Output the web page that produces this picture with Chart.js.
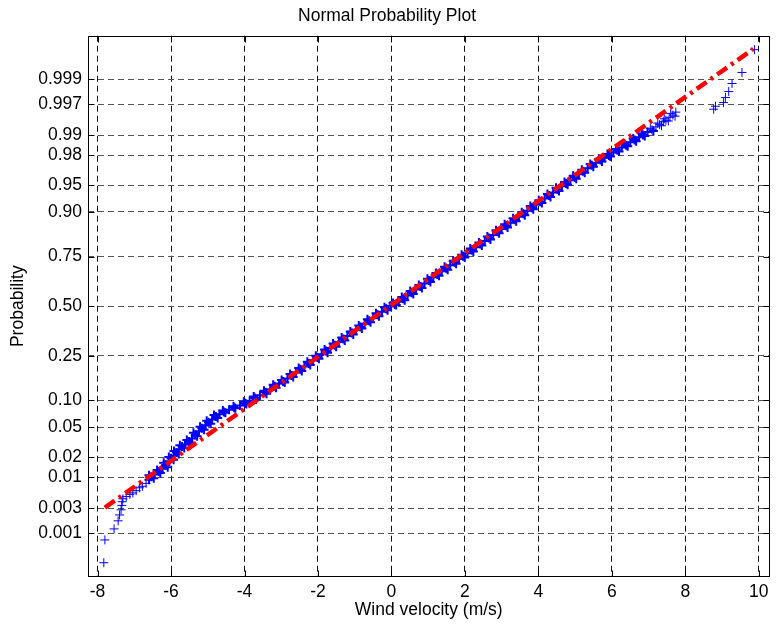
<!DOCTYPE html>
<html>
<head>
<meta charset="utf-8">
<script src="https://cdn.jsdelivr.net/npm/chart.js@4/dist/chart.umd.min.js"></script>
<style>
  html, body { margin: 0; padding: 0; background: #fff; }
  #wrap { width: 776px; height: 625px; }
</style>
</head>
<body>
<div id="wrap"><canvas id="probChart" width="776" height="625"></canvas></div>
<script>
// wind velocity samples (m/s) and their normal scores
const windSpeed = [
  -7.83, -7.80, -7.55, -7.44, -7.40, -7.36, -7.34, -7.33, -7.31, -7.22,
  -7.12, -7.04, -6.95, -6.86, -6.78, -6.68, -6.60, -6.54, -6.45, -6.32,
  -6.24, -6.14, -6.06, -6.00, -5.92, -5.85, -5.78, -5.70, -5.62, -5.51,
  -5.43, -5.34, -5.24, -5.16, -5.06, -4.98, -4.88, -4.78, -4.68, -4.56,
  -4.42, -4.28, -4.12, -3.98, -3.86, -3.72, -3.58, -3.43, -3.30, -3.18,
  -3.06, -2.95, -2.83, -2.72, -2.60, -2.48, -2.37, -2.25, -2.13, -2.02,
  -1.90, -1.78, -1.66, -1.55, -1.43, -1.31, -1.20, -1.08, -0.96, -0.85,
  -0.73, -0.61, -0.50, -0.38, -0.26, -0.15, -0.03, 0.09, 0.20, 0.32,
  0.44, 0.55, 0.67, 0.79, 0.90, 1.02, 1.14, 1.25, 1.37, 1.49,
  1.60, 1.72, 1.84, 1.95, 2.07, 2.19, 2.30, 2.42, 2.54, 2.65,
  2.77, 2.89, 3.00, 3.12, 3.24, 3.35, 3.47, 3.59, 3.70, 3.82,
  3.94, 4.05, 4.17, 4.29, 4.40, 4.52, 4.64, 4.75, 4.87, 4.99,
  5.10, 5.22, 5.34, 5.45, 5.57, 5.69, 5.80, 5.92, 6.04, 6.15,
  6.27, 6.39, 6.50, 6.62, 6.74, 6.85, 6.97, 7.09, 7.20, 7.30,
  7.40, 7.47, 7.58, 7.66, 7.74, 8.77, 8.82, 9.04, 9.09, 9.18,
  9.27, 9.54, 9.88,
  // overlapping samples that make the dense band
  -6.47, -6.60, -6.29, -6.38, -6.09, -6.20, -5.93, -6.06, -5.79, -5.92,
  -5.64, -5.76, -5.47, -5.57, -5.29, -5.39, -5.10, -5.21, -4.92, -5.03,
  -4.73, -4.83, -4.52, -4.59, -4.25, -4.30, -3.95, -4.02, -3.69, -3.75,
  -3.40, -3.47, -3.14, -3.22,
  -2.905, -2.99, -2.675, -2.76, -2.44, -2.525, -2.21, -2.29, -1.975, -2.06,
  -1.74, -1.82, -1.505, -1.59, -1.27, -1.355, -1.04, -1.12, -0.805, -0.89,
  -0.57, -0.655, -0.34, -0.42, -0.105, -0.19, 0.13, 0.045, 0.36, 0.28,
  0.595, 0.51, 0.83, 0.745, 1.06, 0.98, 1.295, 1.21, 1.53, 1.445,
  1.76, 1.68, 1.995, 1.91, 2.23, 2.145, 2.46, 2.38, 2.695, 2.61,
  2.93, 2.845, 3.16, 3.08, 3.395, 3.31, 3.63, 3.545, 3.86, 3.78,
  4.095, 4.01, 4.33, 4.245, 4.56, 4.48, 4.795, 4.71, 5.03, 4.945,
  5.26, 5.18, 5.495, 5.41, 5.73, 5.645, 5.96, 5.88, 6.195, 6.11,
  6.43, 6.345, 6.66, 6.58, 6.895, 6.81, 7.13, 7.045, 7.35, 7.25,
  7.535, 7.425, 7.72, 7.60
];
const normalScore = [
  -3.49, -3.18, -3.03, -2.92, -2.84, -2.77, -2.71, -2.66, -2.62, -2.59,
  -2.56, -2.54, -2.51, -2.47, -2.45, -2.41, -2.36, -2.32, -2.29, -2.25,
  -2.21, -2.16, -2.11, -2.07, -2.03, -1.99, -1.95, -1.91, -1.88, -1.84,
  -1.80, -1.75, -1.70, -1.66, -1.62, -1.58, -1.54, -1.50, -1.47, -1.44,
  -1.41, -1.38, -1.35, -1.32, -1.29, -1.25, -1.21, -1.17, -1.13, -1.09,
  -1.05, -1.025, -0.983, -0.944, -0.901, -0.859, -0.820, -0.778, -0.735, -0.696,
  -0.654, -0.611, -0.569, -0.530, -0.488, -0.445, -0.406, -0.364, -0.321, -0.283,
  -0.240, -0.198, -0.159, -0.116, -0.074, -0.035, 0.007, 0.022, 0.061, 0.103,
  0.146, 0.184, 0.227, 0.269, 0.308, 0.351, 0.393, 0.432, 0.474, 0.517,
  0.556, 0.598, 0.641, 0.680, 0.722, 0.764, 0.803, 0.846, 0.888, 0.927,
  0.969, 1.012, 1.051, 1.093, 1.136, 1.175, 1.217, 1.259, 1.298, 1.341,
  1.383, 1.422, 1.464, 1.507, 1.546, 1.588, 1.631, 1.670, 1.712, 1.755,
  1.794, 1.836, 1.878, 1.917, 1.95, 1.99, 2.02, 2.05, 2.09, 2.12,
  2.16, 2.19, 2.23, 2.26, 2.30, 2.33, 2.37, 2.40, 2.44, 2.47,
  2.51, 2.53, 2.57, 2.60, 2.64, 2.68, 2.72, 2.77, 2.84, 2.92,
  3.03, 3.18, 3.49,
  // overlapping samples that make the dense band
  -2.34, -2.30, -2.27, -2.23, -2.19, -2.13, -2.09, -2.05, -2.01, -1.97,
  -1.93, -1.89, -1.86, -1.82, -1.77, -1.72, -1.68, -1.64, -1.60, -1.56,
  -1.52, -1.48, -1.45, -1.42, -1.39, -1.36, -1.33, -1.30, -1.27, -1.23,
  -1.19, -1.15, -1.11, -1.07,
  -1.038, -1.004, -0.964, -0.923, -0.880, -0.840, -0.799, -0.757, -0.716, -0.675,
  -0.633, -0.590, -0.550, -0.509, -0.467, -0.426, -0.385, -0.343, -0.302, -0.262,
  -0.219, -0.179, -0.138, -0.095, -0.055, -0.014, 0.015, 0.042, 0.082, 0.125,
  0.165, 0.206, 0.248, 0.289, 0.330, 0.372, 0.413, 0.453, 0.496, 0.537,
  0.577, 0.620, 0.661, 0.701, 0.743, 0.784, 0.825, 0.867, 0.908, 0.948,
  0.991, 1.032, 1.072, 1.115, 1.156, 1.196, 1.238, 1.279, 1.320, 1.362,
  1.403, 1.443, 1.486, 1.527, 1.567, 1.610, 1.651, 1.691, 1.734, 1.775,
  1.815, 1.857, 1.898, 1.934, 1.97, 2.005, 2.035, 2.07, 2.105, 2.14,
  2.175, 2.21, 2.245, 2.28, 2.315, 2.35, 2.385, 2.42, 2.455, 2.49,
  2.52, 2.55, 2.585, 2.62
];

// reference line through the data
const fitX = [-7.80, 9.85];
const fitZ = [-2.74, 3.50];

const xTicks = [-8, -6, -4, -2, 0, 2, 4, 6, 8, 10];
const probLabels = ['0.001', '0.003', '0.01', '0.02', '0.05', '0.10', '0.25', '0.50',
  '0.75', '0.90', '0.95', '0.98', '0.99', '0.997', '0.999'];

// inverse of the normal cdf (Acklam), used to place the probability ticks
function probit(p) {
  const a = [-3.969683028665376e+01, 2.209460984245205e+02, -2.759285104469687e+02, 1.383577518672690e+02, -3.066479806614716e+01, 2.506628277459239e+00];
  const b = [-5.447609879822406e+01, 1.615858368580409e+02, -1.556989798598866e+02, 6.680131188771972e+01, -1.328068155288572e+01];
  const c = [-7.784894002430293e-03, -3.223964580411365e-01, -2.400758277161838e+00, -2.549732539343734e+00, 4.374664141464968e+00, 2.938163982698783e+00];
  const d = [7.784695709041462e-03, 3.224671290700398e-01, 2.445134137142996e+00, 3.754408661907416e+00];
  const pl = 0.02425;
  let q, r;
  if (p < pl) {
    q = Math.sqrt(-2 * Math.log(p));
    return (((((c[0]*q+c[1])*q+c[2])*q+c[3])*q+c[4])*q+c[5]) / ((((d[0]*q+d[1])*q+d[2])*q+d[3])*q+1);
  }
  if (p > 1 - pl) {
    q = Math.sqrt(-2 * Math.log(1 - p));
    return -(((((c[0]*q+c[1])*q+c[2])*q+c[3])*q+c[4])*q+c[5]) / ((((d[0]*q+d[1])*q+d[2])*q+d[3])*q+1);
  }
  q = p - 0.5;
  r = q * q;
  return (((((a[0]*r+a[1])*r+a[2])*r+a[3])*r+a[4])*r+a[5])*q / (((((b[0]*r+b[1])*r+b[2])*r+b[3])*r+b[4])*r+1);
}

const FONT = 'Arial, "Liberation Sans", sans-serif';
Chart.defaults.font.family = FONT;
Chart.defaults.font.size = 17.5;
Chart.defaults.color = '#000';

// box around the plot + inward tick marks on all four sides
const frame = {
  id: 'frame',
  afterDraw(chart) {
    const { ctx, chartArea: a, scales } = chart;
    const L = Math.round(a.left) + 0.5, R = Math.round(a.right) - 0.5;
    const T = Math.round(a.top) + 0.5, B = Math.round(a.bottom) - 0.5;
    ctx.save();
    ctx.strokeStyle = '#000';
    ctx.lineWidth = 1;
    ctx.setLineDash([]);
    ctx.strokeRect(L, T, R - L, B - T);
    ctx.beginPath();
    scales.x.ticks.forEach(t => {
      const px = Math.round(scales.x.getPixelForValue(t.value)) + 0.5;
      ctx.moveTo(px, B); ctx.lineTo(px, B - 6);
      ctx.moveTo(px, T); ctx.lineTo(px, T + 6);
    });
    scales.y.ticks.forEach(t => {
      const py = Math.round(scales.y.getPixelForValue(t.value)) + 0.5;
      ctx.moveTo(L, py); ctx.lineTo(L + 6, py);
      ctx.moveTo(R, py); ctx.lineTo(R - 6, py);
    });
    ctx.stroke();
    ctx.restore();
  }
};

new Chart(document.getElementById('probChart'), {
  type: 'scatter',
  data: {
    datasets: [
      {
        type: 'line',
        label: 'fit',
        data: fitX.map((x, i) => ({ x: x, y: fitZ[i] })),
        borderColor: '#ff0000',
        borderWidth: 4.5,
        borderDash: [12, 5, 3, 5],
        pointRadius: 0,
        fill: false
      },
      {
        label: 'Wind velocity',
        data: windSpeed.map((x, i) => ({ x: x, y: normalScore[i] })),
        pointStyle: 'cross',
        pointRadius: 4.5,
        borderColor: '#0000ff',
        backgroundColor: '#0000ff',
        // crosses pile up in the middle of the sample and read as a solid band
        borderWidth: c => (c.raw && Math.abs(c.raw.y) < 2.4 ? 2 : 1)
      }
    ]
  },
  options: {
    responsive: false,
    animation: false,
    devicePixelRatio: 1,
    layout: { padding: { right: 2 } },
    plugins: {
      legend: { display: false },
      tooltip: { enabled: false },
      title: {
        display: true,
        text: 'Normal Probability Plot',
        color: '#000',
        font: { size: 17.5, weight: 'normal' },
        padding: { top: 6, bottom: 8.7 }
      }
    },
    scales: {
      x: {
        type: 'linear',
        min: -8.26,
        max: 10.29,
        afterBuildTicks: s => { s.ticks = xTicks.map(v => ({ value: v })); },
        afterFit: s => { s.height = 48.3; },
        ticks: { padding: 5, font: { size: 17.5 } },
        grid: { color: '#111', lineWidth: 1, drawTicks: false },
        border: { display: false, dash: [6, 4] },
        title: {
          display: true,
          text: 'Wind velocity (m/s)',
          font: { size: 17.5 },
          padding: { top: 0, bottom: 4 }
        }
      },
      y: {
        type: 'linear',
        min: -3.68,
        max: 3.68,
        afterBuildTicks: s => { s.ticks = probLabels.map(p => ({ value: probit(parseFloat(p)) })); },
        afterFit: s => { s.width = 88; },
        ticks: {
          padding: 6,
          font: { size: 17.5 },
          callback: (v, i) => probLabels[i]
        },
        grid: { color: '#555', lineWidth: 1, drawTicks: false },
        border: { display: false, dash: [6, 4] },
        title: {
          display: true,
          text: 'Probability',
          font: { size: 17.5 },
          padding: { top: 8, bottom: 0 }
        }
      }
    }
  },
  plugins: [frame]
});
</script>
</body>
</html>
